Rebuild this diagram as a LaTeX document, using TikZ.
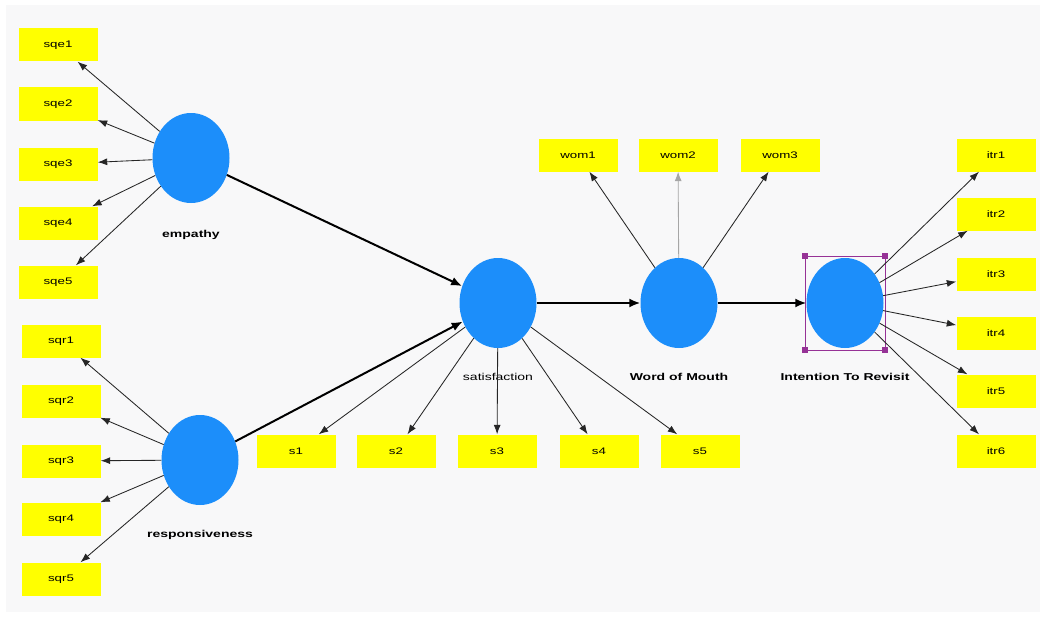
\documentclass[tikz,border=0pt]{standalone}
\usepackage{fontspec}
\setmainfont{Liberation Sans}
\newfontfamily\wfont[FakeStretch=1.4]{Liberation Sans}
\usetikzlibrary{shapes.geometric,arrows.meta}
\definecolor{lvblue}{RGB}{28,142,250}
\definecolor{boxyellow}{RGB}{255,255,0}
\definecolor{bggray}{RGB}{248,248,249}
\definecolor{selpurple}{RGB}{150,50,150}
\begin{document}
\begin{tikzpicture}[x=1pt,y=-1pt,
 ind/.style={fill=boxyellow, minimum width=79pt, minimum height=33pt, inner sep=0pt, font=\wfont\fontsize{9.5}{10}\selectfont},
 lv/.style={ellipse, fill=lvblue, minimum width=77pt, minimum height=90pt, inner sep=0pt},
 lvlabel/.style={font=\wfont\bfseries\fontsize{10}{12}\selectfont, inner sep=1pt},
 loading/.style={draw=black!85, line width=0.85pt, -{Latex[length=9.5pt,width=7pt]}},
 structpath/.style={draw=black, line width=2pt, -{Latex[length=11pt,width=9pt]}},
 handle/.style={fill=selpurple, minimum size=6pt, inner sep=0pt}]
\useasboundingbox (0,0) rectangle (1045,618);
\fill[white] (0,0) rectangle (1045,618);
\fill[bggray] (6,5) rectangle (1040,612);
% indicator boxes
\node[ind] (sqe1) at (58,45) {sqe1};
\node[ind] (sqe2) at (58,104) {sqe2};
\node[ind] (sqe3) at (58,164) {sqe3};
\node[ind] (sqe4) at (58,223) {sqe4};
\node[ind] (sqe5) at (58,282) {sqe5};
\node[ind] (sqr1) at (61,341) {sqr1};
\node[ind] (sqr2) at (61,401) {sqr2};
\node[ind] (sqr3) at (61,461) {sqr3};
\node[ind] (sqr4) at (61,519) {sqr4};
\node[ind] (sqr5) at (61,579) {sqr5};
\node[ind] (s1) at (296,451) {s1};
\node[ind] (s2) at (396,451) {s2};
\node[ind] (s3) at (497,451) {s3};
\node[ind] (s4) at (599,451) {s4};
\node[ind] (s5) at (700,451) {s5};
\node[ind] (wom1) at (578,155) {wom1};
\node[ind] (wom2) at (678,155) {wom2};
\node[ind] (wom3) at (780,155) {wom3};
\node[ind] (itr1) at (996,155) {itr1};
\node[ind] (itr2) at (996,214) {itr2};
\node[ind] (itr3) at (996,274) {itr3};
\node[ind] (itr4) at (996,333) {itr4};
\node[ind] (itr5) at (996,391) {itr5};
\node[ind] (itr6) at (996,451) {itr6};
% latent variables
\node[lv] (emp) at (191,158) {};
\node[lv] (resp) at (200,460) {};
\node[lv] (sat) at (498,303) {};
\node[lv] (wom) at (679,303) {};
\node[lv] (itr) at (845,303) {};
% labels
\node[lvlabel] (lemp) at (191,235) {empathy};
\node[lvlabel] (lresp) at (200,535) {responsiveness};
\node[lvlabel, font=\wfont\fontsize{10}{12}\selectfont] (lsat) at (498,377) {satisfaction};
\node[lvlabel] (lwom) at (679,377) {Word of Mouth};
\node[lvlabel] (litr) at (845,377) {Intention To Revisit};
% selection frame
\node[draw=selpurple, line width=0.6pt, minimum width=80pt, minimum height=94pt, inner sep=0pt] (sel) at (845,303) {};
\node[handle] (h1) at (sel.north west) {};
\node[handle] (h2) at (sel.north east) {};
\node[handle] (h3) at (sel.south west) {};
\node[handle] (h4) at (sel.south east) {};
% loadings
\foreach \i in {1,...,5} {\draw[loading] (emp) -- (sqe\i);}
\foreach \i in {1,...,5} {\draw[loading] (resp) -- (sqr\i);}
\foreach \i in {1,...,5} {\draw[loading] (sat) -- (s\i);}
\draw[loading] (wom) -- (wom1);
\draw[loading, draw=black!35] (wom) -- (wom2);
\draw[loading] (wom) -- (wom3);
\foreach \i in {1,...,6} {\draw[loading] (itr) -- (itr\i);}
% structural paths
\draw[structpath] (emp) -- (sat);
\draw[structpath] (resp) -- (sat);
\draw[structpath] (sat) -- (wom);
\draw[structpath] (wom) -- (itr);
\end{tikzpicture}
\end{document}
